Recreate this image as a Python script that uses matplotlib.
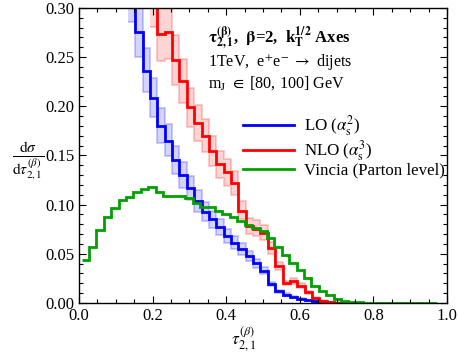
import matplotlib
matplotlib.use("Agg")
import matplotlib.pyplot as plt
import numpy as np
from matplotlib.ticker import MultipleLocator, FormatStrFormatter

# ---- data (bin width 0.02) ----
LO_START = 0.133
LO = [0.330, 0.275, 0.236, 0.208, 0.180, 0.165, 0.145, 0.130, 0.117, 0.104,
      0.093, 0.085, 0.077, 0.068, 0.061, 0.055, 0.048, 0.041, 0.033, 0.019,
      0.012, 0.0085, 0.006, 0.004, 0.0027, 0.0017, 0.001, 0.0005, 0.0003, 0.0002]
LO_LOW = [0.286, 0.250, 0.214, 0.189, 0.163, 0.149, 0.131, 0.117, 0.105, 0.093,
          0.083, 0.076, 0.069, 0.061, 0.055, 0.049, 0.043, 0.036, 0.029, 0.017,
          0.0105, 0.0075, 0.0053, 0.0035, 0.0024, 0.0015, 0.0009, 0.00045, 0.00027, 0.00018]
LO_HIGH = [0.365, 0.302, 0.259, 0.229, 0.198, 0.182, 0.160, 0.143, 0.129, 0.115,
           0.103, 0.094, 0.085, 0.075, 0.068, 0.061, 0.053, 0.045, 0.037, 0.021,
           0.0135, 0.0097, 0.0068, 0.0046, 0.0031, 0.0019, 0.0011, 0.00056, 0.00033, 0.00022]

NLO_START = 0.193
NLO = [0.330, 0.273, 0.276, 0.2475, 0.226, 0.199, 0.183, 0.170, 0.155, 0.141,
       0.133, 0.122, 0.094, 0.078, 0.075, 0.071, 0.056, 0.038, 0.020, 0.022,
       0.0176, 0.011, 0.005, 0.0025, 0.0012, 0.0005, 0.0002]
NLO_LOW = [0.281, 0.246, 0.248, 0.222, 0.203, 0.179, 0.165, 0.153, 0.139, 0.127,
           0.119, 0.110, 0.085, 0.070, 0.068, 0.064, 0.050, 0.034, 0.018, 0.019,
           0.015, 0.0095, 0.0044, 0.0022, 0.001, 0.0004, 0.00015]
NLO_HIGH = [0.362, 0.300, 0.303, 0.272, 0.248, 0.219, 0.201, 0.187, 0.170, 0.155,
            0.146, 0.134, 0.104, 0.086, 0.084, 0.079, 0.062, 0.042, 0.022, 0.025,
            0.020, 0.0125, 0.0057, 0.0028, 0.0014, 0.0006, 0.00025]

VINCIA_RANGE = (0.007, 0.974)
VINCIA = [0.0434, 0.0566, 0.0746, 0.0875, 0.0966, 0.1044, 0.1078, 0.1129, 0.1159, 0.1176,
          0.1130, 0.1085, 0.1085, 0.1085, 0.1065, 0.1017, 0.0977, 0.0977, 0.0932, 0.0905,
          0.0871, 0.0831, 0.0790, 0.0763, 0.0729, 0.0661, 0.0566, 0.0491, 0.0407, 0.0339,
          0.0254, 0.0176, 0.0125, 0.0078, 0.0044, 0.0024, 0.0014, 0.0008, 0.0005, 0.0003,
          0.0002, 0.0002, 0.0001, 0.0001, 0.0001, 0.0, 0.0, 0.0]

BLUE = "#0000ff"
RED = "#ff0000"
GREEN = "#00a000"

plt.rcParams.update({
    "font.family": ["Liberation Serif", "DejaVu Serif"],
    "mathtext.fontset": "stix",
    "axes.linewidth": 1.0,
})


def edges_from(start, n, width=0.02):
    return start + width * np.arange(n + 1)


fig = plt.figure(figsize=(4.58, 3.59), dpi=100)
ax = fig.add_axes([0.1725, 0.156, 0.8035, 0.822])

lo_edges = edges_from(LO_START, len(LO))
nlo_edges = edges_from(NLO_START, len(NLO))
vin_edges = np.linspace(VINCIA_RANGE[0], VINCIA_RANGE[1], len(VINCIA) + 1)

for vals, low, high, edges, col in [
    (LO, LO_LOW, LO_HIGH, lo_edges, BLUE),
    (NLO, NLO_LOW, NLO_HIGH, nlo_edges, RED),
]:
    ax.stairs(high, edges, baseline=np.asarray(low), fill=True, color=col, alpha=0.17, lw=0)
    ax.stairs(high, edges, baseline=None, color=col, alpha=0.22, lw=1.3)
    ax.stairs(low, edges, baseline=None, color=col, alpha=0.22, lw=1.3)

h_lo = ax.stairs(LO, lo_edges, baseline=None, color=BLUE, lw=2.0, label=r"LO ($\alpha_{\mathrm{s}}^{2}$)")
h_nlo = ax.stairs(NLO, nlo_edges, baseline=None, color=RED, lw=2.0, label=r"NLO ($\alpha_{\mathrm{s}}^{3}$)")
h_vin = ax.stairs(VINCIA, vin_edges, baseline=None, color=GREEN, lw=2.0, label="Vincia (Parton level)")

ax.set_xlim(0, 1)
ax.set_ylim(0, 0.30)
ax.xaxis.set_major_locator(MultipleLocator(0.2))
ax.xaxis.set_minor_locator(MultipleLocator(0.05))
ax.yaxis.set_major_locator(MultipleLocator(0.05))
ax.yaxis.set_minor_locator(MultipleLocator(0.01))
ax.xaxis.set_major_formatter(FormatStrFormatter("%.1f"))
ax.yaxis.set_major_formatter(FormatStrFormatter("%.2f"))
ax.tick_params(which="both", direction="in", top=True, right=True, labelsize=12, width=0.8)
ax.tick_params(which="major", length=5)
ax.tick_params(which="minor", length=3)

ax.set_xlabel(r"$\tau_{2,1}^{(\beta)}$", fontsize=12.5, va="center")
ax.xaxis.set_label_coords(0.446, -0.125)
ax.set_ylabel(r"$\frac{\mathrm{d}\sigma}{\mathrm{d}\tau_{2,1}^{(\beta)}}$", fontsize=16,
              rotation=0, va="center", ha="center")
ax.yaxis.set_label_coords(-0.139, 0.48)

ax.text(0.35, 0.898, r"$\mathbf{\tau}_{\mathbf{2,1}}^{\mathbf{(\beta)}}$,  $\mathbf{\beta}$=2,  k$_{\mathbf{T}}^{\mathbf{1/2}}$ Axes",
        transform=ax.transAxes, fontsize=12, fontweight="bold", va="center")
ax.text(0.35, 0.817, r"1TeV,  e$^{+}$e$^{-}$ $\rightarrow$ dijets",
        transform=ax.transAxes, fontsize=11.6, va="center")
ax.text(0.35, 0.746, r"m$_{\mathrm{J}}$ $\in$ [80, 100] GeV",
        transform=ax.transAxes, fontsize=11.6, va="center")

ax.legend(handles=[h_lo, h_nlo, h_vin], loc="upper left", bbox_to_anchor=(0.445, 0.643),
          frameon=False, fontsize=12.2, handlelength=3.0, handletextpad=0.6,
          borderpad=0.0, labelspacing=0.0, borderaxespad=0.0)

fig.savefig("out.png", dpi=100)
